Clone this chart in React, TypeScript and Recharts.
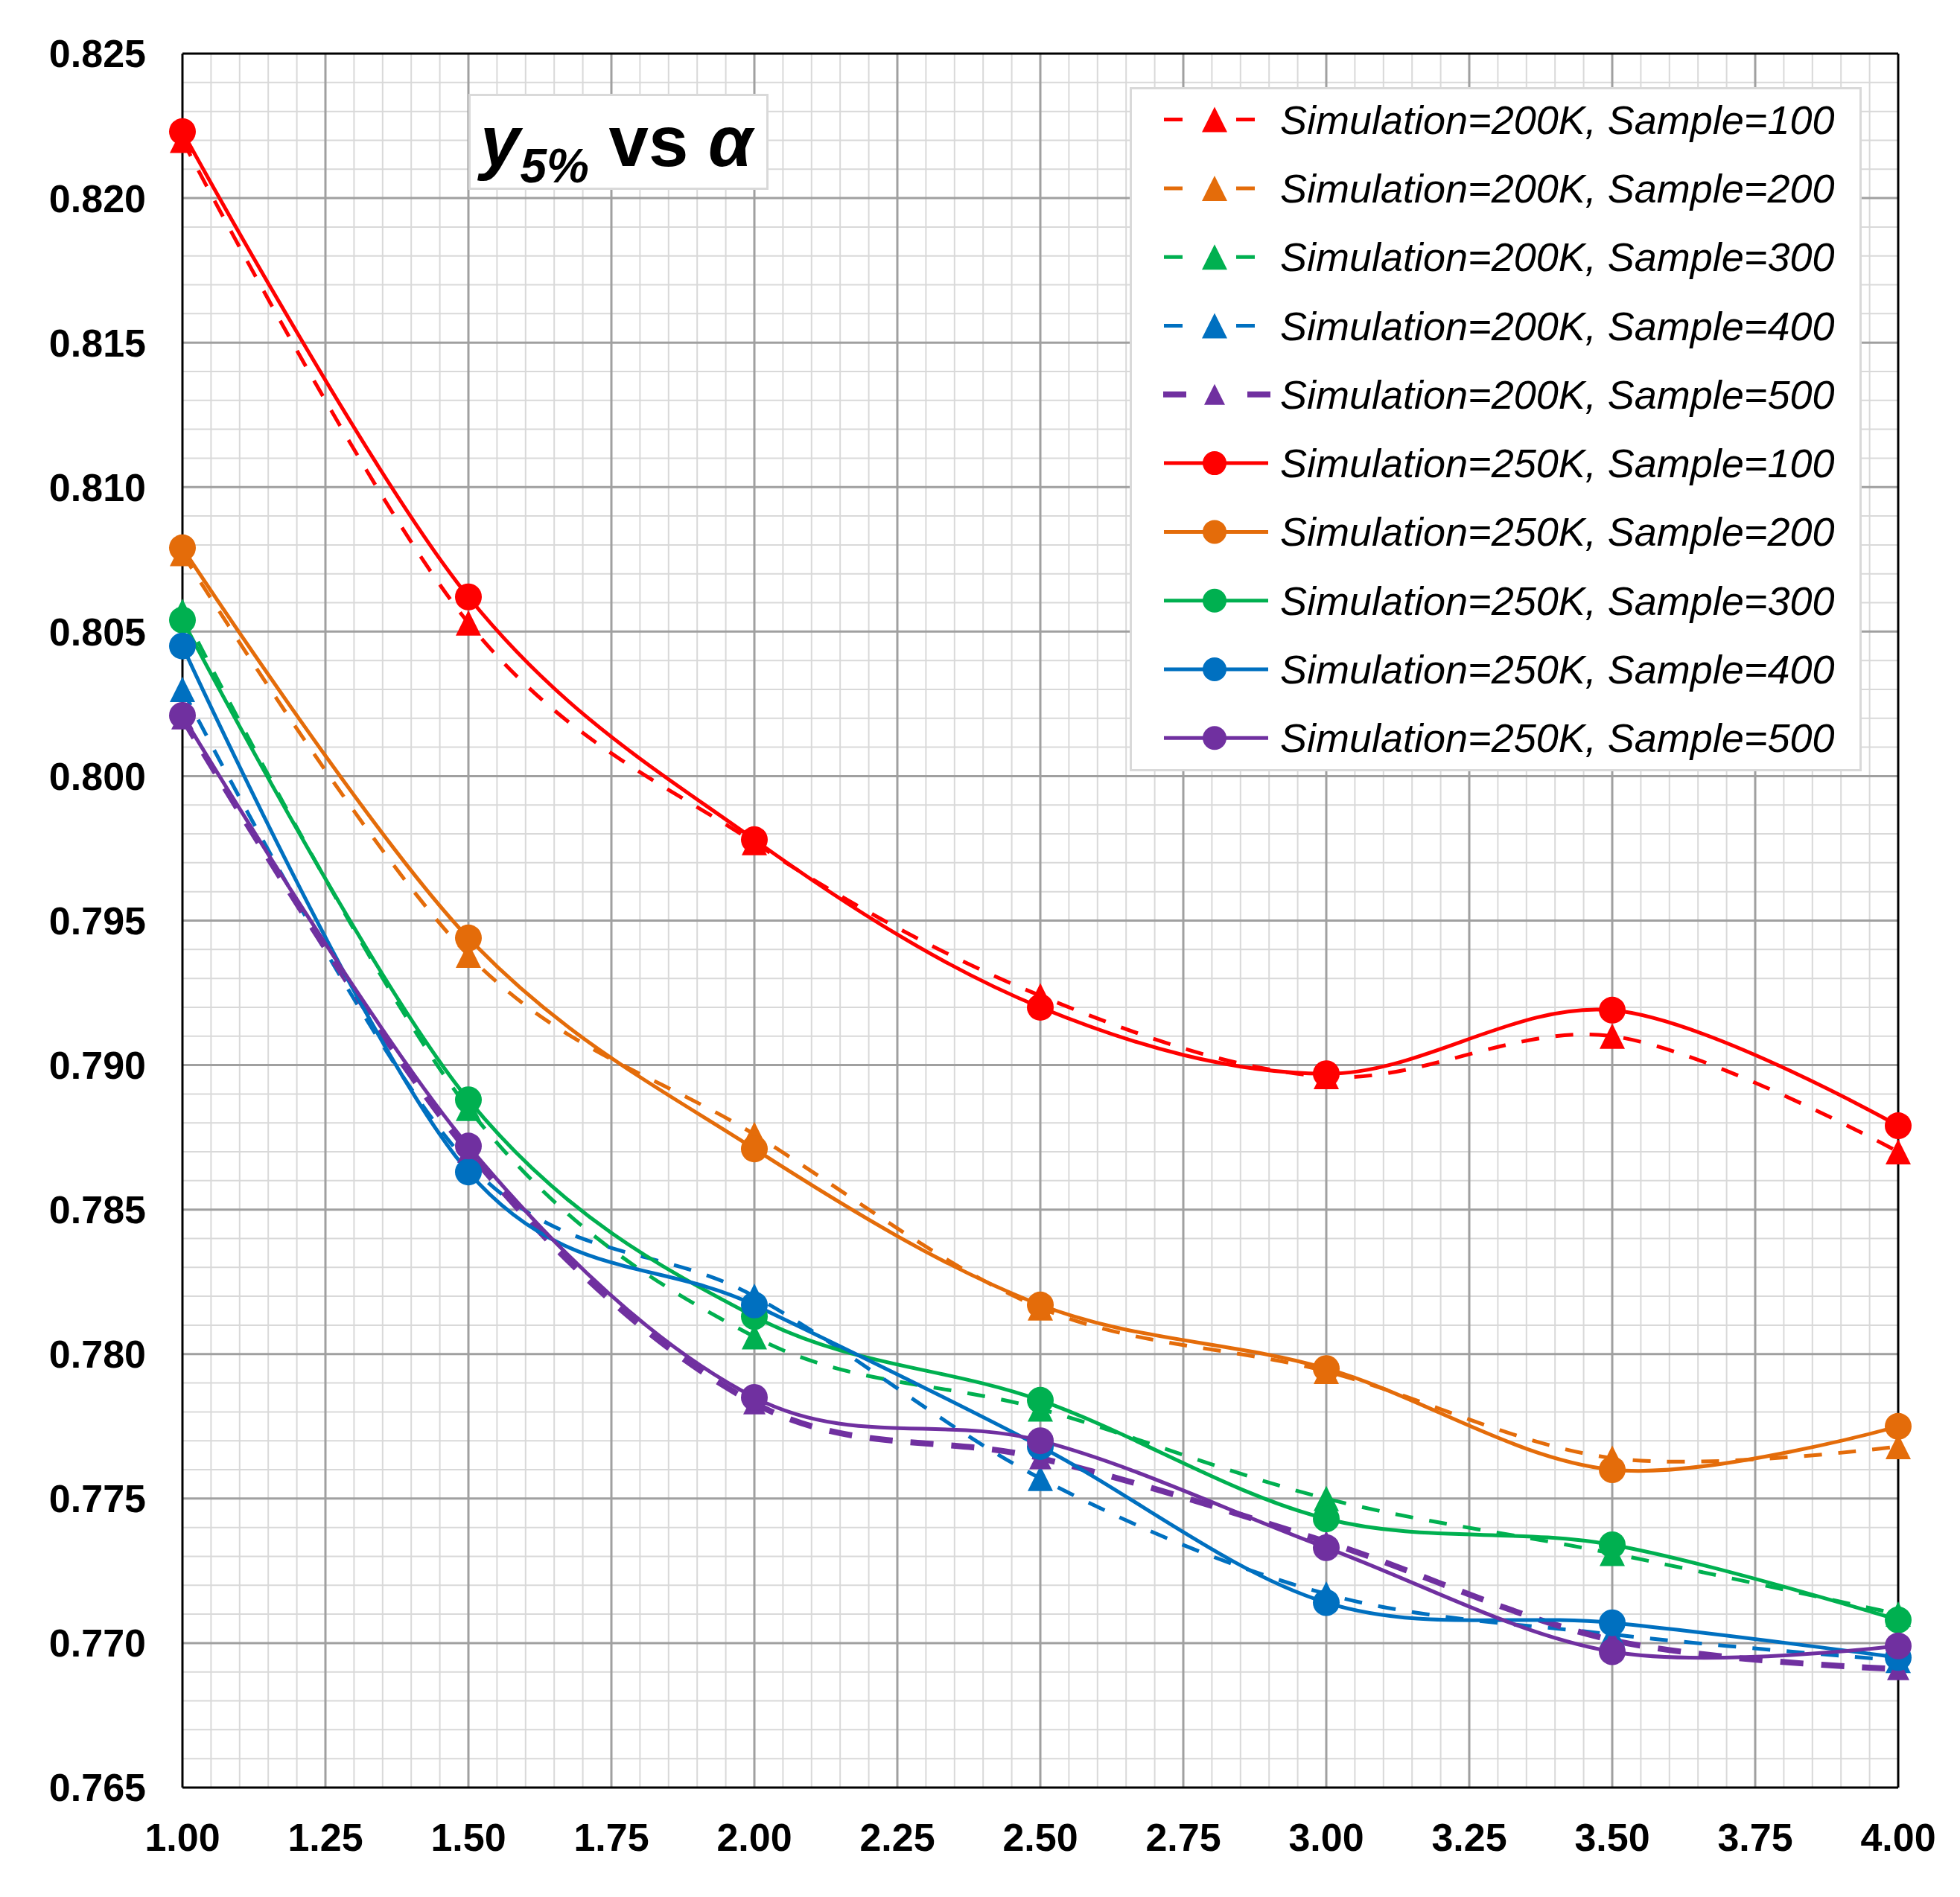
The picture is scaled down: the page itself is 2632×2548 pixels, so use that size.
import React from "react";
import {
  LineChart,
  Line,
  XAxis,
  YAxis,
  CartesianGrid,
  ReferenceLine,
  Legend,
} from "recharts";

const FONT = '"Liberation Sans", Arial, sans-serif';

const alpha = [1.0, 1.5, 2.0, 2.5, 3.0, 3.5, 4.0];

// Simulation = 200K (dashed lines, triangle markers)
const sim200kSample100 = [0.822, 0.8053, 0.7977, 0.7924, 0.7896, 0.791, 0.787];
const sim200kSample200 = [0.8077, 0.7938, 0.7876, 0.7816, 0.7794, 0.7764, 0.7768];
const sim200kSample300 = [0.8057, 0.7885, 0.7806, 0.7781, 0.775, 0.7731, 0.771];
const sim200kSample400 = [0.803, 0.7866, 0.782, 0.7757, 0.7717, 0.7703, 0.7694];
const sim200kSample500 = [0.802, 0.787, 0.7783, 0.7764, 0.7735, 0.7701, 0.7691];

// Simulation = 250K (solid lines, circle markers)
const sim250kSample100 = [0.8223, 0.8062, 0.7978, 0.792, 0.7897, 0.7919, 0.7879];
const sim250kSample200 = [0.8079, 0.7944, 0.7871, 0.7817, 0.7795, 0.776, 0.7775];
const sim250kSample300 = [0.8054, 0.7888, 0.7813, 0.7784, 0.7743, 0.7734, 0.7708];
const sim250kSample400 = [0.8045, 0.7863, 0.7817, 0.7768, 0.7714, 0.7707, 0.7695];
const sim250kSample500 = [0.8021, 0.7872, 0.7785, 0.777, 0.7733, 0.7697, 0.7699];

const xTicks = [1, 1.25, 1.5, 1.75, 2, 2.25, 2.5, 2.75, 3, 3.25, 3.5, 3.75, 4];
const yTicks = [
  0.765, 0.77, 0.775, 0.78, 0.785, 0.79, 0.795, 0.8, 0.805, 0.81, 0.815, 0.82, 0.825,
];

// minor grid: every 0.05 on x, every 0.001 on y
const xMinor = Array.from({ length: 61 }, (_, i) => Math.round((1 + i * 0.05) * 100) / 100).filter(
  (v) => !xTicks.includes(v)
);
const yMinor = Array.from({ length: 61 }, (_, i) => Math.round((0.765 + i * 0.001) * 1000) / 1000).filter(
  (v) => !yTicks.includes(v)
);

const RED = "#FF0000";
const ORANGE = "#E46C0A";
const GREEN = "#00B050";
const BLUE = "#0070C0";
const PURPLE = "#7030A0";

interface SeriesDef {
  key: string;
  name: string;
  values: number[];
  color: string;
  dashed: boolean;
  width: number;
  dash?: string;
  triSize?: number;
}

const series: SeriesDef[] = [
  { key: "s200_100", name: "Simulation=200K, Sample=100", values: sim200kSample100, color: RED, dashed: true, width: 5, dash: "24 22" },
  { key: "s200_200", name: "Simulation=200K, Sample=200", values: sim200kSample200, color: ORANGE, dashed: true, width: 5, dash: "24 22" },
  { key: "s200_300", name: "Simulation=200K, Sample=300", values: sim200kSample300, color: GREEN, dashed: true, width: 5, dash: "24 22" },
  { key: "s200_400", name: "Simulation=200K, Sample=400", values: sim200kSample400, color: BLUE, dashed: true, width: 5, dash: "24 22" },
  { key: "s200_500", name: "Simulation=200K, Sample=500", values: sim200kSample500, color: PURPLE, dashed: true, width: 8, dash: "31 24", triSize: 30 },
  { key: "s250_100", name: "Simulation=250K, Sample=100", values: sim250kSample100, color: RED, dashed: false, width: 5 },
  { key: "s250_200", name: "Simulation=250K, Sample=200", values: sim250kSample200, color: ORANGE, dashed: false, width: 5 },
  { key: "s250_300", name: "Simulation=250K, Sample=300", values: sim250kSample300, color: GREEN, dashed: false, width: 5 },
  { key: "s250_400", name: "Simulation=250K, Sample=400", values: sim250kSample400, color: BLUE, dashed: false, width: 5 },
  { key: "s250_500", name: "Simulation=250K, Sample=500", values: sim250kSample500, color: PURPLE, dashed: false, width: 5 },
];

const rows = alpha.map((a, i) => {
  const row: Record<string, number> = { alpha: a };
  series.forEach((s) => {
    row[s.key] = s.values[i];
  });
  return row;
});

// Excel-like smoothed line (cardinal spline, tension 0)
function excelSmooth(context: any) {
  let x0 = NaN, y0 = NaN, x1 = NaN, y1 = NaN, x2 = NaN, y2 = NaN;
  let pt = 0;
  let line: number = NaN;
  const k = 1 / 6;
  const seg = (x: number, y: number) =>
    context.bezierCurveTo(
      x1 + k * (x2 - x0),
      y1 + k * (y2 - y0),
      x2 + k * (x1 - x),
      y2 + k * (y1 - y),
      x2,
      y2
    );
  return {
    areaStart() {
      line = 0;
    },
    areaEnd() {
      line = NaN;
    },
    lineStart() {
      x0 = x1 = x2 = y0 = y1 = y2 = NaN;
      pt = 0;
    },
    lineEnd() {
      if (pt === 2) context.lineTo(x2, y2);
      else if (pt === 3) seg(x1, y1);
      if (line || (line !== 0 && pt === 1)) context.closePath();
      line = 1 - line;
    },
    point(xIn: number, yIn: number) {
      const x = +xIn;
      const y = +yIn;
      if (pt === 0) {
        pt = 1;
        if (line) context.lineTo(x, y);
        else context.moveTo(x, y);
      } else if (pt === 1) {
        pt = 2;
        x1 = x;
        y1 = y;
      } else {
        pt = 3;
        seg(x, y);
      }
      x0 = x1; x1 = x2; x2 = x;
      y0 = y1; y1 = y2; y2 = y;
    },
  };
}

function trianglePath(cx: number, cy: number, size: number) {
  const h = size / 2;
  return `M${cx},${cy - h}L${cx + h},${cy + h}L${cx - h},${cy + h}Z`;
}

const makeDot = (s: SeriesDef) => (props: any) => {
  const { cx, cy, index } = props;
  const key = `${s.key}-${index}`;
  if (cx == null || cy == null) return <g key={key} />;
  if (s.dashed) {
    return <path key={key} d={trianglePath(cx, cy, s.triSize ?? 34)} fill={s.color} />;
  }
  return <circle key={key} cx={cx} cy={cy} r={18} fill={s.color} />;
};

const tickStyle = { fill: "#000", fontSize: 52, fontWeight: "bold", fontFamily: FONT };

function LegendBox() {
  return (
    <svg width={983} height={919} style={{ display: "block" }}>
      <rect x={1.5} y={1.5} width={980} height={916} fill="#fff" stroke="#d9d9d9" strokeWidth={3} />
      {series.map((s, i) => {
        const y = 43.6 + i * 92.3;
        const thick = s.key === "s200_500";
        return (
          <g key={s.key}>
            {s.dashed ? (
              <line
                x1={thick ? 45 : 46}
                x2={thick ? 189 : 168}
                y1={y}
                y2={y}
                stroke={s.color}
                strokeWidth={s.width}
                strokeDasharray={thick ? "31 82" : "25 72"}
              />
            ) : (
              <line x1={46} x2={186} y1={y} y2={y} stroke={s.color} strokeWidth={s.width} />
            )}
            {s.dashed ? (
              <path d={trianglePath(114, y, thick ? 28 : 34)} fill={s.color} />
            ) : (
              <circle cx={114} cy={y} r={16} fill={s.color} />
            )}
            <text x={202} y={y + 19} fontFamily={FONT} fontStyle="italic" fontSize={54} fill="#000">
              {s.name}
            </text>
          </g>
        );
      })}
    </svg>
  );
}

function TitleBox() {
  // the box sits at (629,126) on the page, 403 x 129; svg is padded so no glyph gets clipped
  return (
    <svg
      width={443}
      height={169}
      style={{ position: "absolute", left: 609, top: 106, overflow: "visible" }}
    >
      <rect x={21.5} y={21.5} width={400} height={126} fill="#fff" stroke="#d9d9d9" strokeWidth={3} />
      <text x={36} y={117} fontFamily={FONT} fontWeight="bold" fontSize={96} fill="#000">
        <tspan fontStyle="italic">y</tspan>
        <tspan fontStyle="italic" fontSize={64} dy={22}>5%</tspan>
        <tspan dy={-22}> vs </tspan>
        <tspan fontStyle="italic">α</tspan>
      </text>
    </svg>
  );
}

export default function App() {
  return (
    <div style={{ position: "absolute", left: 0, top: 0, width: 2632, height: 2548, background: "#fff" }}>
      <LineChart
        width={2632}
        height={2548}
        data={rows}
        margin={{ top: 72, right: 83, bottom: 0, left: 0 }}
      >
        <CartesianGrid
          verticalValues={xMinor}
          horizontalValues={yMinor}
          stroke="#d9d9d9"
          strokeWidth={2}
        />
        <CartesianGrid
          verticalValues={xTicks.slice(1, -1)}
          horizontalValues={yTicks.slice(1, -1)}
          stroke="#a0a0a0"
          strokeWidth={3}
        />
        <XAxis
          dataKey="alpha"
          type="number"
          domain={[1, 4]}
          ticks={xTicks}
          interval={0}
          tickFormatter={(v: number) => v.toFixed(2)}
          height={147}
          tickSize={0}
          tickMargin={48}
          axisLine={{ stroke: "#000", strokeWidth: 3 }}
          tick={tickStyle}
        />
        <YAxis
          type="number"
          domain={[0.765, 0.825]}
          ticks={yTicks}
          interval={0}
          tickFormatter={(v: number) => v.toFixed(3)}
          width={245}
          tickSize={0}
          tickMargin={49}
          axisLine={{ stroke: "#000", strokeWidth: 3 }}
          tick={tickStyle}
        />
        <ReferenceLine x={4} stroke="#000" strokeWidth={3} />
        <ReferenceLine y={0.825} stroke="#000" strokeWidth={3} />
        {series.map((s) => (
          <Line
            key={s.key}
            dataKey={s.key}
            name={s.name}
            type={excelSmooth as any}
            stroke={s.color}
            strokeWidth={s.width}
            strokeDasharray={s.dashed ? s.dash : undefined}
            dot={makeDot(s)}
            activeDot={false}
            isAnimationActive={false}
          />
        ))}
        <Legend
          layout="horizontal"
          verticalAlign="middle"
          content={() => <LegendBox />}
          wrapperStyle={{ left: 1517, top: 117, width: 983, height: 919 }}
        />
      </LineChart>
      <TitleBox />
    </div>
  );
}
